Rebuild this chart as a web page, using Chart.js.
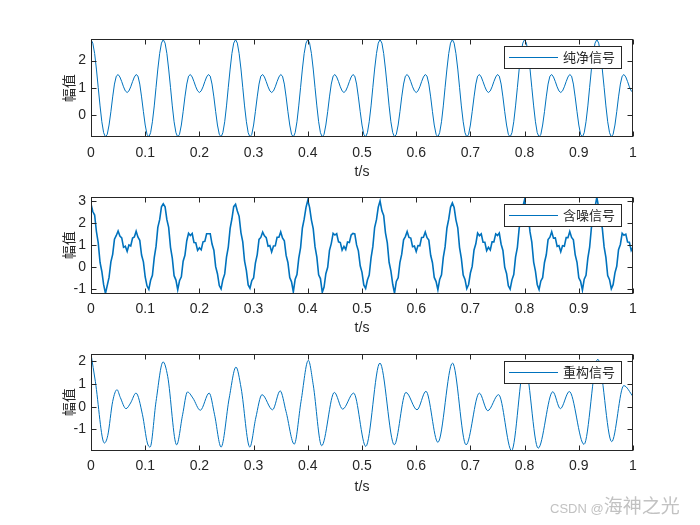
<!DOCTYPE html>
<html>
<head>
<meta charset="utf-8">
<script src="https://cdn.jsdelivr.net/npm/chart.js@4/dist/chart.umd.min.js"></script>
<style>
html,body{margin:0;padding:0;background:#fff;width:700px;height:525px;overflow:hidden;}
canvas{position:absolute;left:0;top:0;}
#wm{position:absolute;left:550px;top:494px;color:#c2c2c2;white-space:nowrap;line-height:22px;}
#wm .lat{font-family:"Liberation Sans",Arial,sans-serif;font-size:13px;}
#wm .cjk{font-family:"Noto Sans CJK SC",sans-serif;font-size:19px;}
</style>
</head>
<body>
<canvas id="c1" width="700" height="525"></canvas>
<canvas id="c2" width="700" height="525"></canvas>
<canvas id="c3" width="700" height="525"></canvas>
<div id="wm"><span class="lat">CSDN @</span><span class="cjk">海神之光</span></div>
<script>
// ---------------- DATA ----------------
const xTickValues = [0,0.1,0.2,0.3,0.4,0.5,0.6,0.7,0.8,0.9,1];
const xTickLabels = ['0','0.1','0.2','0.3','0.4','0.5','0.6','0.7','0.8','0.9','1'];
const yTicksClean = [0,1,2];
const yTicksNoisy = [-1,0,1,2,3];
const yTicksRecon = [-1,0,1,2];
const xTitle = 't/s';
const yTitle = '幅值';
const labelClean = '纯净信号';
const labelNoisy = '含噪信号';
const labelRecon = '重构信号';

// sample instants (s)
const tSamples = [
0,0.0033,0.0067,0.01,0.0133,0.0167,0.02,0.0233,0.0267,0.03,0.0333,0.0367,0.04,0.0433,0.0467,0.05,0.0533,0.0567,0.06,0.0633,0.0667,0.07,0.0733,0.0767,0.08,0.0833,0.0867,0.09,0.0933,0.0967,
0.1,0.1033,0.1067,0.11,0.1133,0.1167,0.12,0.1233,0.1267,0.13,0.1333,0.1367,0.14,0.1433,0.1467,0.15,0.1533,0.1567,0.16,0.1633,0.1667,0.17,0.1733,0.1767,0.18,0.1833,0.1867,0.19,0.1933,0.1967,
0.2,0.2033,0.2067,0.21,0.2133,0.2167,0.22,0.2233,0.2267,0.23,0.2333,0.2367,0.24,0.2433,0.2467,0.25,0.2533,0.2567,0.26,0.2633,0.2667,0.27,0.2733,0.2767,0.28,0.2833,0.2867,0.29,0.2933,0.2967,
0.3,0.3033,0.3067,0.31,0.3133,0.3167,0.32,0.3233,0.3267,0.33,0.3333,0.3367,0.34,0.3433,0.3467,0.35,0.3533,0.3567,0.36,0.3633,0.3667,0.37,0.3733,0.3767,0.38,0.3833,0.3867,0.39,0.3933,0.3967,
0.4,0.4033,0.4067,0.41,0.4133,0.4167,0.42,0.4233,0.4267,0.43,0.4333,0.4367,0.44,0.4433,0.4467,0.45,0.4533,0.4567,0.46,0.4633,0.4667,0.47,0.4733,0.4767,0.48,0.4833,0.4867,0.49,0.4933,0.4967,
0.5,0.5033,0.5067,0.51,0.5133,0.5167,0.52,0.5233,0.5267,0.53,0.5333,0.5367,0.54,0.5433,0.5467,0.55,0.5533,0.5567,0.56,0.5633,0.5667,0.57,0.5733,0.5767,0.58,0.5833,0.5867,0.59,0.5933,0.5967,
0.6,0.6033,0.6067,0.61,0.6133,0.6167,0.62,0.6233,0.6267,0.63,0.6333,0.6367,0.64,0.6433,0.6467,0.65,0.6533,0.6567,0.66,0.6633,0.6667,0.67,0.6733,0.6767,0.68,0.6833,0.6867,0.69,0.6933,0.6967,
0.7,0.7033,0.7067,0.71,0.7133,0.7167,0.72,0.7233,0.7267,0.73,0.7333,0.7367,0.74,0.7433,0.7467,0.75,0.7533,0.7567,0.76,0.7633,0.7667,0.77,0.7733,0.7767,0.78,0.7833,0.7867,0.79,0.7933,0.7967,
0.8,0.8033,0.8067,0.81,0.8133,0.8167,0.82,0.8233,0.8267,0.83,0.8333,0.8367,0.84,0.8433,0.8467,0.85,0.8533,0.8567,0.86,0.8633,0.8667,0.87,0.8733,0.8767,0.88,0.8833,0.8867,0.89,0.8933,0.8967,
0.9,0.9033,0.9067,0.91,0.9133,0.9167,0.92,0.9233,0.9267,0.93,0.9333,0.9367,0.94,0.9433,0.9467,0.95,0.9533,0.9567,0.96,0.9633,0.9667,0.97,0.9733,0.9767,0.98,0.9833,0.9867,0.99,0.9933,0.9967,
1
];

// clean signal
const cleanSignal = [
2.77,2.64,2.26,1.69,1.02,0.34,-0.24,-0.64,-0.80,-0.70,-0.36,0.13,0.67,1.14,1.43,1.49,1.40,1.23,1.04,0.89,0.83,0.89,1.04,1.23,1.40,1.49,1.43,1.14,0.67,0.13,-0.36,-0.70,-0.80,-0.64,-0.24,0.34,1.02,1.69,2.26,2.64,
2.77,2.64,2.26,1.69,1.02,0.34,-0.24,-0.64,-0.80,-0.70,-0.36,0.13,0.67,1.14,1.43,1.49,1.40,1.23,1.04,0.89,0.83,0.89,1.04,1.23,1.40,1.49,1.43,1.14,0.67,0.13,-0.36,-0.70,-0.80,-0.64,-0.24,0.34,1.02,1.69,2.26,2.64,
2.77,2.64,2.26,1.69,1.02,0.34,-0.24,-0.64,-0.80,-0.70,-0.36,0.13,0.67,1.14,1.43,1.49,1.40,1.23,1.04,0.89,0.83,0.89,1.04,1.23,1.40,1.49,1.43,1.14,0.67,0.13,-0.36,-0.70,-0.80,-0.64,-0.24,0.34,1.02,1.69,2.26,2.64,
2.77,2.64,2.26,1.69,1.02,0.34,-0.24,-0.64,-0.80,-0.70,-0.36,0.13,0.67,1.14,1.43,1.49,1.40,1.23,1.04,0.89,0.83,0.89,1.04,1.23,1.40,1.49,1.43,1.14,0.67,0.13,-0.36,-0.70,-0.80,-0.64,-0.24,0.34,1.02,1.69,2.26,2.64,
2.77,2.64,2.26,1.69,1.02,0.34,-0.24,-0.64,-0.80,-0.70,-0.36,0.13,0.67,1.14,1.43,1.49,1.40,1.23,1.04,0.89,0.83,0.89,1.04,1.23,1.40,1.49,1.43,1.14,0.67,0.13,-0.36,-0.70,-0.80,-0.64,-0.24,0.34,1.02,1.69,2.26,2.64,
2.77,2.64,2.26,1.69,1.02,0.34,-0.24,-0.64,-0.80,-0.70,-0.36,0.13,0.67,1.14,1.43,1.49,1.40,1.23,1.04,0.89,0.83,0.89,1.04,1.23,1.40,1.49,1.43,1.14,0.67,0.13,-0.36,-0.70,-0.80,-0.64,-0.24,0.34,1.02,1.69,2.26,2.64,
2.77,2.64,2.26,1.69,1.02,0.34,-0.24,-0.64,-0.80,-0.70,-0.36,0.13,0.67,1.14,1.43,1.49,1.40,1.23,1.04,0.89,0.83,0.89,1.04,1.23,1.40,1.49,1.43,1.14,0.67,0.13,-0.36,-0.70,-0.80,-0.64,-0.24,0.34,1.02,1.69,2.26,2.64,
2.77,2.64,2.26,1.69,1.02,0.34,-0.24,-0.64,-0.80,-0.70,-0.36,0.13,0.67,1.14,1.43,1.49,1.40,1.23,1.04,0.89,0.83
];

// noisy signal
const noisySignal = [
2.88,2.54,2.38,1.63,1.12,0.22,-0.19,-0.79,-1.19,-0.82,-0.46,0.25,0.59,1.28,1.45,1.65,1.42,1.34,0.91,0.96,0.73,1.02,0.97,1.33,1.38,1.64,1.37,1.23,0.56,0.25,-0.44,-0.84,-1.00,-0.59,-0.36,0.44,0.95,1.82,2.17,2.75,
2.89,2.75,2.17,1.82,0.91,0.42,-0.38,-0.58,-1.02,-0.61,-0.43,0.28,0.55,1.21,1.55,1.45,1.54,1.13,1.12,0.77,0.89,0.80,1.16,1.18,1.53,1.53,1.53,1.06,0.78,0.03,-0.29,-0.83,-0.98,-0.56,-0.30,0.46,0.92,1.77,2.21,2.76,
2.87,2.56,2.32,1.57,1.16,0.29,-0.15,-0.80,-0.95,-0.60,-0.48,0.19,0.58,1.27,1.36,1.60,1.43,1.35,0.96,0.99,0.70,0.97,0.98,1.37,1.37,1.61,1.34,1.21,0.54,0.22,-0.47,-0.66,-1.12,-0.54,-0.33,0.41,0.90,1.79,2.19,2.73,
3.05,2.73,2.15,1.76,0.94,0.46,-0.34,-0.51,-1.14,-0.90,-0.29,0.00,0.77,1.08,1.55,1.47,1.53,1.16,1.13,0.78,0.95,0.81,1.15,1.13,1.47,1.54,1.52,1.02,0.75,0.07,-0.23,-0.80,-0.96,-0.58,-0.35,0.43,0.94,1.81,2.17,2.74,
3.02,2.57,2.36,1.57,1.11,0.23,-0.16,-0.77,-1.18,-0.64,-0.48,0.23,0.60,1.25,1.40,1.63,1.36,1.33,0.94,0.97,0.72,0.99,0.98,1.36,1.37,1.61,1.35,1.24,0.55,0.21,-0.46,-0.65,-1.02,-0.55,-0.34,0.45,0.93,1.79,2.19,2.73,
2.93,2.72,2.16,1.80,0.90,0.41,-0.35,-0.55,-0.97,-0.78,-0.26,0.04,0.79,1.07,1.56,1.44,1.52,1.14,1.14,0.76,0.91,0.79,1.16,1.16,1.52,1.45,1.56,1.05,0.77,0.01,-0.28,-0.84,-0.99,-0.57,-0.33,0.46,0.91,1.78,2.18,2.76,
3.08,2.55,2.37,1.61,1.15,0.24,-0.17,-0.78,-1.01,-0.62,-0.47,0.22,0.57,1.26,1.37,1.62,1.33,1.34,0.95,0.99,0.71,0.98,0.96,1.35,1.35,1.63,1.36,1.25,0.58,0.23,-0.48,-0.64,-1.04,-0.54,-0.36,0.42,0.92,1.81,2.20,2.74,
3.19,2.71,2.14,1.79,0.93,0.45,-0.37,-0.56,-0.98,-0.79,-0.25,0.05,0.80,1.04,1.55,1.46,1.51,1.15,1.14,0.77,0.92
];

// reconstructed signal
const tRecon = [0,0.008,0.0246,0.031,0.040,0.048,0.054,0.0646,0.073,0.083,0.095,0.104,0.109,0.120,0.133,0.1415,0.158,0.169,0.178,0.188,0.2017,0.218,0.228,0.240,0.255,0.2675,0.277,0.293,0.304,0.3155,0.335,0.349,0.3598,0.375,0.3875,0.401,0.410,0.4256,0.449,0.4643,0.4846,0.507,0.533,0.5596,0.581,0.6015,0.618,0.640,0.667,0.692,0.7165,0.732,0.752,0.776,0.800,0.825,0.852,0.866,0.8825,0.9096,0.935,0.9607,0.983,1.0];
const reconSignal = [2.33,1.12,-1.61,-1.27,0.23,0.75,0.41,-0.09,0.16,0.60,-0.36,-1.61,-1.79,0.23,1.98,1.34,-1.69,-0.36,0.65,0.38,-0.16,0.60,-0.36,-1.79,0.38,1.75,0.82,-1.79,-0.50,0.53,-0.14,0.70,-0.21,-1.66,0.23,2.05,0.97,-1.73,0.63,-0.11,0.60,-1.76,1.93,-1.69,0.63,-0.14,0.68,-1.58,1.93,-1.69,0.60,-0.18,0.53,-1.95,1.90,-1.84,0.66,-0.09,0.67,-1.67,2.10,-1.55,0.93,0.45];

// axis limits
const yLimClean = [-0.81, 2.78];
const yLimNoisy = [-1.2, 3.2];
const yLimRecon = [-1.95, 2.33];

// ---------------- STYLE / LAYOUT ----------------
const W = 700, H = 525;
const FONT_LATIN = '"Liberation Sans", Arial, Helvetica, sans-serif';
const FONT_CJK = '"Noto Sans CJK SC", "Noto Sans", sans-serif';
const AXIS_COLOR = '#262626';
const LINE_COLOR = '#0072BD';
const AX_LEFT = 91, AX_RIGHT = 633;

const framePlugin = {
  id: 'matlabFrame',
  afterDraw(chart) {
    const {ctx, chartArea: a, scales: {x, y}} = chart;
    ctx.save();
    ctx.strokeStyle = AXIS_COLOR;
    ctx.lineWidth = 1;
    const L = Math.round(a.left) + 0.5, R = Math.round(a.right) - 0.5;
    const T = Math.round(a.top) + 0.5, B = Math.round(a.bottom) - 0.5;
    const tl = 5;
    ctx.beginPath();
    x.ticks.forEach(t => {
      const px = Math.round(x.getPixelForValue(t.value)) + 0.5;
      ctx.moveTo(px, B); ctx.lineTo(px, B - tl);
      ctx.moveTo(px, T); ctx.lineTo(px, T + tl);
    });
    y.ticks.forEach(t => {
      const py = Math.round(y.getPixelForValue(t.value)) + 0.5;
      ctx.moveTo(L, py); ctx.lineTo(L + tl, py);
      ctx.moveTo(R, py); ctx.lineTo(R - tl, py);
    });
    ctx.stroke();
    ctx.strokeRect(L, T, R - L, B - T);
    // legend box (top-right inside the axes)
    const ds = chart.data.datasets[0];
    const bw = 117, bh = 22;
    const bx = Math.round(a.right) - 12 - bw, by = Math.round(a.top) + 7;
    ctx.fillStyle = '#ffffff';
    ctx.fillRect(bx, by, bw, bh);
    ctx.strokeStyle = AXIS_COLOR;
    ctx.strokeRect(bx + 0.5, by + 0.5, bw, bh);
    const cy = by + bh / 2;
    ctx.strokeStyle = LINE_COLOR;
    ctx.lineWidth = 1;
    ctx.beginPath();
    ctx.moveTo(bx + 5, Math.round(cy) + 0.5);
    ctx.lineTo(bx + 54, Math.round(cy) + 0.5);
    ctx.stroke();
    ctx.fillStyle = AXIS_COLOR;
    ctx.font = '13px ' + FONT_CJK;
    ctx.textBaseline = 'middle';
    ctx.textAlign = 'left';
    ctx.fillText(ds.label, bx + 59, cy + 0.5);
    ctx.restore();
  }
};

function buildPanel(id, geo, tArr, values, label, yLim, yTicks, smooth, lw) {
  const pts = tArr.map((t, i) => ({x: t, y: values[i]}));
  const tickFont = {family: FONT_LATIN, size: 14};
  new Chart(document.getElementById(id), {
    type: 'line',
    data: {datasets: [{
      label: label, data: pts, borderColor: LINE_COLOR, borderWidth: lw,
      pointRadius: 0, fill: false, tension: 0,
      cubicInterpolationMode: smooth ? 'monotone' : 'default'
    }]},
    options: {
      responsive: false, animation: false, events: [],
      layout: {padding: {top: geo.top, right: W - AX_RIGHT, left: 0, bottom: 0}},
      plugins: {legend: {display: false}, tooltip: {enabled: false}},
      scales: {
        x: {
          type: 'linear', min: 0, max: 1,
          afterBuildTicks: s => { s.ticks = xTickValues.map(v => ({value: v})); },
          afterFit: s => { s.height = H - geo.bottom; },
          grid: {display: false, drawTicks: false}, border: {display: false},
          ticks: {padding: 7, color: AXIS_COLOR, font: tickFont, maxRotation: 0, autoSkip: false,
                  callback: (v, i) => xTickLabels[i]},
          title: {display: true, text: xTitle, color: AXIS_COLOR, font: tickFont,
                  padding: {top: 0, bottom: H - 8.4 - geo.xTitleY}}
        },
        y: {
          type: 'linear', min: yLim[0], max: yLim[1],
          afterBuildTicks: s => { s.ticks = yTicks.map(v => ({value: v})); },
          afterFit: s => { s.width = AX_LEFT; },
          grid: {display: false, drawTicks: false}, border: {display: false},
          ticks: {padding: 5, color: AXIS_COLOR, font: tickFont, callback: (v, i) => String(yTicks[i])},
          title: {display: true, text: yTitle, color: AXIS_COLOR, font: {family: FONT_CJK, size: 14},
                  padding: {top: 68.3 - 8.4, bottom: 0}}
        }
      }
    },
    plugins: [framePlugin]
  });
}

buildPanel('c1', {top: 39.3, bottom: 137.3, xTitleY: 171.7}, tSamples, cleanSignal, labelClean, yLimClean, yTicksClean, false, 1);
buildPanel('c2', {top: 197, bottom: 293.7, xTitleY: 328.3}, tSamples, noisySignal, labelNoisy, yLimNoisy, yTicksNoisy, false, 1.6);
buildPanel('c3', {top: 354, bottom: 450.7, xTitleY: 486.7}, tRecon, reconSignal, labelRecon, yLimRecon, yTicksRecon, true, 1);
</script>
</body>
</html>
